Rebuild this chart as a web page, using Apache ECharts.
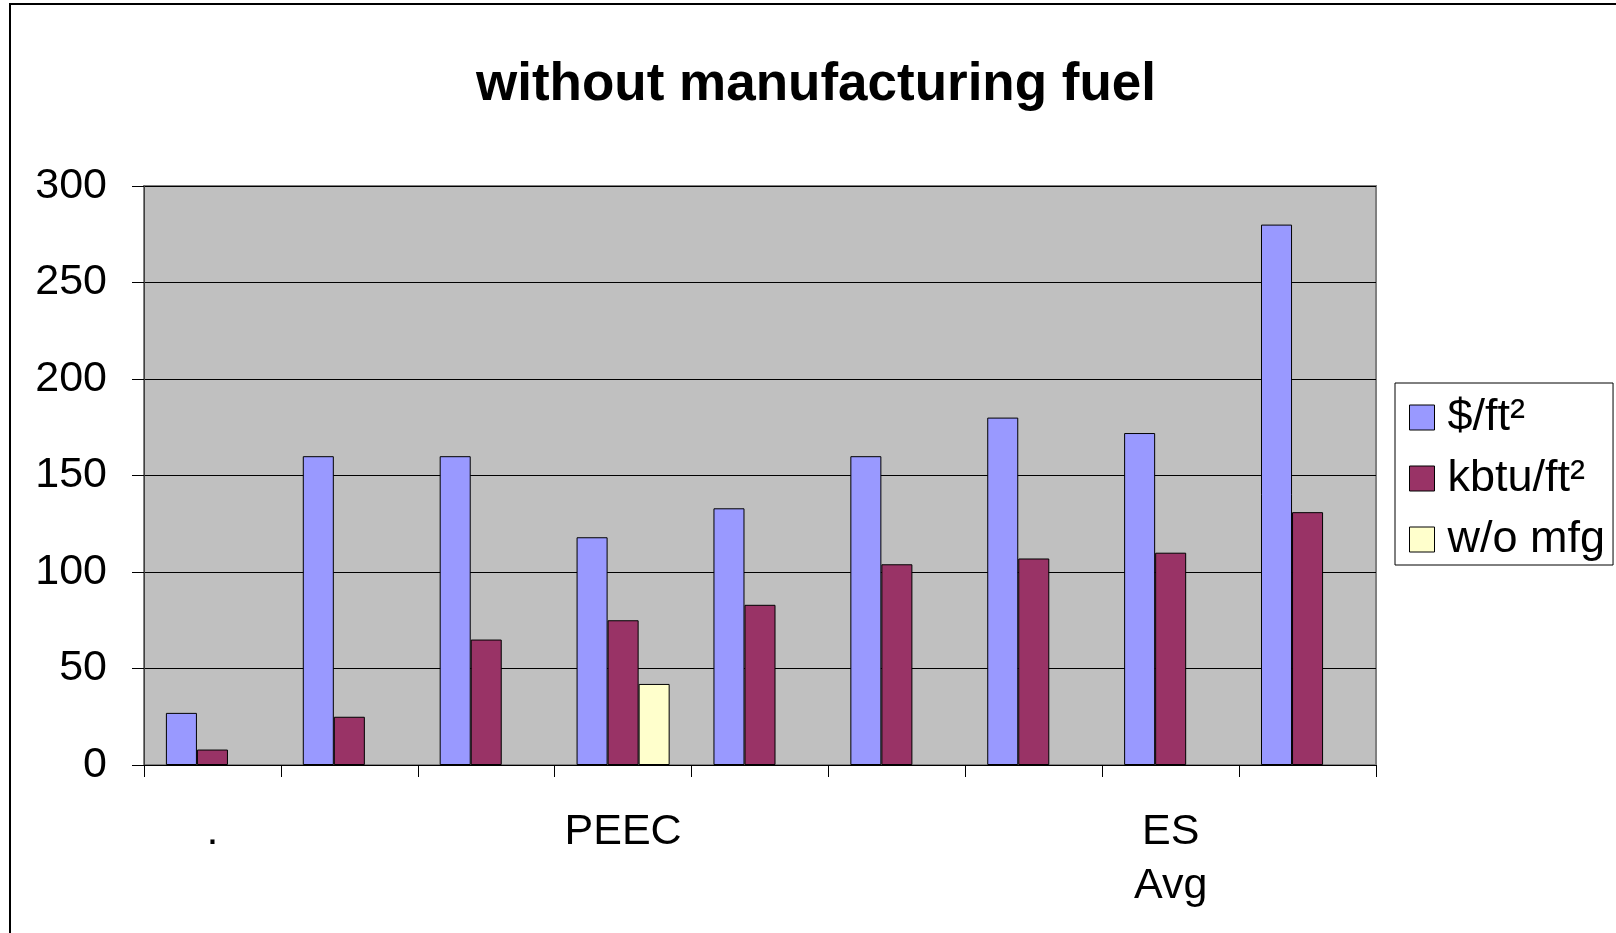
<!DOCTYPE html>
<html>
<head>
<meta charset="utf-8">
<script src="https://cdn.jsdelivr.net/npm/echarts@6/dist/echarts.min.js"></script>
<style>
html,body{margin:0;padding:0;background:#fff;}
#chart{width:1616px;height:933px;}
</style>
</head>
<body>
<div id="chart"></div>
<script>
var categories = ['.', '', '', 'PEEC', '', '', '', 'ES\nAvg', ''];
var dollarPerFt2 = [27, 160, 160, 118, 133, 160, 180, 172, 280];
var kbtuPerFt2 = [8, 25, 65, 75, 83, 104, 107, 110, 131];
var withoutMfg = [null, null, null, 42, null, null, null, null, null];
var yTicks = [0, 50, 100, 150, 200, 250, 300];
var seriesNames = ['$/ft²', 'kbtu/ft²', 'w/o mfg'];

var FONT = '"Liberation Sans", Arial, sans-serif';
var chart = echarts.init(document.getElementById('chart'));
var barStyle = function (c) { return { color: c, borderColor: '#000', borderWidth: 1 }; };

chart.setOption({
  animation: false,
  backgroundColor: '#fff',
  title: {
    text: 'without manufacturing fuel',
    left: 811,
    textAlign: 'center',
    top: 54,
    textStyle: { fontFamily: FONT, fontSize: 53, fontWeight: 'bold', color: '#000' }
  },
  graphic: [{
    type: 'rect',
    shape: { x: 10, y: 4, width: 1700, height: 1000 },
    style: { fill: 'none', stroke: '#000', lineWidth: 2 },
    silent: true
  }],
  legend: {
    orient: 'vertical',
    left: 1395,
    top: 383,
    backgroundColor: '#fff',
    borderColor: '#000',
    borderWidth: 1,
    padding: [12, 8, 3, 14],
    itemWidth: 25,
    itemHeight: 25,
    itemGap: 16,
    icon: 'rect',
    data: seriesNames,
    itemStyle: { borderColor: '#000', borderWidth: 1 },
    textStyle: { fontFamily: FONT, fontSize: 45, lineHeight: 44, color: '#000', padding: [0, 0, 0, 8] }
  },
  grid: {
    left: 144, top: 186, right: 240, bottom: 168,
    show: true,
    backgroundColor: '#C0C0C0',
    borderColor: '#808080',
    borderWidth: 2
  },
  xAxis: {
    type: 'category',
    data: categories,
    boundaryGap: true,
    axisLine: { show: true, lineStyle: { color: '#000', width: 1 } },
    axisTick: { show: true, interval: 0, length: 12, lineStyle: { color: '#000' } },
    axisLabel: { interval: 0, margin: 40, fontFamily: FONT, fontSize: 43, lineHeight: 54, color: '#000' }
  },
  yAxis: {
    type: 'value',
    min: yTicks[0],
    max: yTicks[yTicks.length - 1],
    interval: 50,
    axisLine: { show: true, lineStyle: { color: '#404040', width: 1 } },
    axisTick: { show: true, length: 12, lineStyle: { color: '#000' } },
    splitLine: { show: true, lineStyle: { color: '#000', width: 1 } },
    axisLabel: { margin: 37, fontFamily: FONT, fontSize: 43, color: '#000', padding: [5, 0, 0, 0] }
  },
  series: [
    { name: seriesNames[0], type: 'bar', data: dollarPerFt2, barGap: '0%', barCategoryGap: '32%', itemStyle: barStyle('#9999FF') },
    { name: seriesNames[1], type: 'bar', data: kbtuPerFt2, barGap: '0%', barCategoryGap: '32%', itemStyle: barStyle('#993366') },
    { name: seriesNames[2], type: 'bar', data: withoutMfg, barGap: '0%', barCategoryGap: '32%', itemStyle: barStyle('#FFFFCC') }
  ]
});
</script>
</body>
</html>
